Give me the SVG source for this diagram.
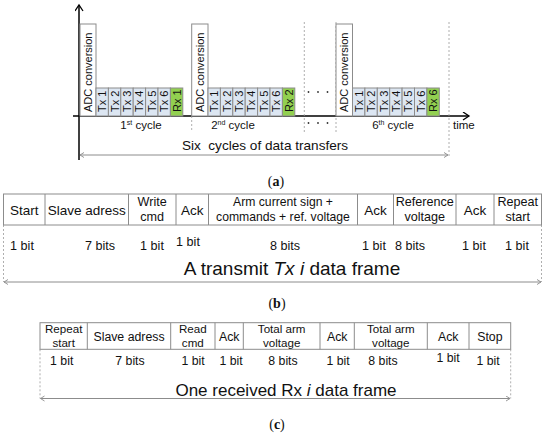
<svg xmlns="http://www.w3.org/2000/svg" width="550" height="435" viewBox="0 0 550 435">
<style>
text{font-family:"Liberation Sans",Arial,sans-serif;fill:#111}
.box{fill:#fff;stroke:#8c8c8c;stroke-width:1}
.tx{fill:#dce6f2;stroke:#8c8c8c;stroke-width:1}
.rx{fill:#92d050;stroke:#8c8c8c;stroke-width:1}
.rt{font-size:11px}
.adc{font-size:11px}
.lbl{font-size:11.5px}
.cell{fill:#fff;stroke:#8c8c8c;stroke-width:1}
.h{font-size:13.5px;text-anchor:middle}
.h2{font-size:12.6px;text-anchor:middle}
.hs{font-size:12.2px;text-anchor:middle}
.b{font-size:12.6px;text-anchor:middle}
.c{font-size:12.3px;text-anchor:middle}
.c2{font-size:11.6px;text-anchor:middle}
.dash{stroke:#9a9a9a;stroke-width:0.8;stroke-dasharray:2,2;fill:none}
.axis{stroke:#000;stroke-width:1.5;fill:none}
.span{stroke:#8c8c8c;stroke-width:1;fill:none}
.cap{font-family:"Liberation Serif","DejaVu Serif",serif;font-size:14px;text-anchor:middle}
.dot{fill:#333}
</style>
<defs>
<marker id="ah" markerWidth="10" markerHeight="10" refX="7" refY="4" orient="auto" markerUnits="userSpaceOnUse">
<path d="M1,0 L7,4 L1,8" fill="none" stroke="#000" stroke-width="1.3"/>
</marker>
<marker id="sh" markerWidth="8" markerHeight="8" refX="5" refY="3" orient="auto-start-reverse" markerUnits="userSpaceOnUse">
<path d="M1,0.5 L5,3 L1,5.5" fill="none" stroke="#8c8c8c" stroke-width="0.9"/>
</marker>
</defs>

<!-- ===== Part (a) ===== -->
<g id="connectors">
<line class="axis" x1="79" y1="160" x2="79" y2="5" marker-end="url(#ah)"/>
<line class="axis" x1="73" y1="116" x2="469" y2="116" marker-end="url(#ah)"/>
<line class="dash" x1="191.7" y1="116" x2="191.7" y2="130"/>
<line class="dash" x1="304.3" y1="22" x2="304.3" y2="132"/>
<line class="dash" x1="336" y1="22" x2="336" y2="132"/>
<line class="dash" x1="449" y1="22" x2="449" y2="157"/>
<line class="span" x1="80" y1="155" x2="448" y2="155" marker-start="url(#sh)" marker-end="url(#sh)"/>
<line class="dash" x1="3.5" y1="225" x2="3.5" y2="282"/>
<line class="dash" x1="541.5" y1="225" x2="541.5" y2="282"/>
<line class="span" x1="4" y1="282" x2="541" y2="282" marker-start="url(#sh)" marker-end="url(#sh)"/>
<line class="dash" x1="40" y1="349.3" x2="40" y2="398.5"/>
<line class="dash" x1="510.7" y1="349.3" x2="510.7" y2="398.5"/>
<line class="span" x1="40.5" y1="398.5" x2="510" y2="398.5" marker-start="url(#sh)" marker-end="url(#sh)"/>
</g>

<g id="cycle1">
<rect class="box" x="80" y="24" width="16" height="92"/>
<text class="adc" transform="translate(92,112) rotate(-90)">ADC conversion</text>
<rect class="tx" x="96" y="88" width="12.4" height="28"/>
<rect class="tx" x="108.4" y="88" width="12.4" height="28"/>
<rect class="tx" x="120.8" y="88" width="12.4" height="28"/>
<rect class="tx" x="133.2" y="88" width="12.4" height="28"/>
<rect class="tx" x="145.6" y="88" width="12.4" height="28"/>
<rect class="tx" x="158" y="88" width="12.4" height="28"/>
<rect class="rx" x="170.4" y="88" width="12.4" height="28"/>
<text class="rt" transform="translate(106.2,112) rotate(-90)">Tx 1</text>
<text class="rt" transform="translate(118.6,112) rotate(-90)">Tx 2</text>
<text class="rt" transform="translate(131,112) rotate(-90)">Tx 3</text>
<text class="rt" transform="translate(143.4,112) rotate(-90)">Tx 4</text>
<text class="rt" transform="translate(155.8,112) rotate(-90)">Tx 5</text>
<text class="rt" transform="translate(168.2,112) rotate(-90)">Tx 6</text>
<text class="rt" transform="translate(180.6,112) rotate(-90)">Rx 1</text>
<text class="lbl" x="141" y="129" text-anchor="middle">1<tspan font-size="7" dy="-4">st</tspan><tspan dy="4"> cycle</tspan></text>
</g>

<g id="cycle2">
<rect class="box" x="191.7" y="24" width="16.3" height="92"/>
<text class="adc" transform="translate(204,112) rotate(-90)">ADC conversion</text>
<rect class="tx" x="208" y="88" width="12.4" height="28"/>
<rect class="tx" x="220.4" y="88" width="12.4" height="28"/>
<rect class="tx" x="232.8" y="88" width="12.4" height="28"/>
<rect class="tx" x="245.2" y="88" width="12.4" height="28"/>
<rect class="tx" x="257.6" y="88" width="12.4" height="28"/>
<rect class="tx" x="270" y="88" width="12.4" height="28"/>
<rect class="rx" x="282.4" y="88" width="12.4" height="28"/>
<text class="rt" transform="translate(218.2,112) rotate(-90)">Tx 1</text>
<text class="rt" transform="translate(230.6,112) rotate(-90)">Tx 2</text>
<text class="rt" transform="translate(243,112) rotate(-90)">Tx 3</text>
<text class="rt" transform="translate(255.4,112) rotate(-90)">Tx 4</text>
<text class="rt" transform="translate(267.8,112) rotate(-90)">Tx 5</text>
<text class="rt" transform="translate(280.2,112) rotate(-90)">Tx 6</text>
<text class="rt" transform="translate(292.6,112) rotate(-90)">Rx 2</text>
<text class="lbl" x="233" y="129" text-anchor="middle">2<tspan font-size="7" dy="-4">nd</tspan><tspan dy="4"> cycle</tspan></text>
</g>

<g id="ellipsis">
<circle class="dot" cx="308.5" cy="92" r="0.9"/>
<circle class="dot" cx="318" cy="92" r="0.9"/>
<circle class="dot" cx="327.5" cy="92" r="0.9"/>
<circle class="dot" cx="308.5" cy="123" r="0.9"/>
<circle class="dot" cx="318" cy="123" r="0.9"/>
<circle class="dot" cx="327.5" cy="123" r="0.9"/>
</g>

<g id="cycle6">
<rect class="box" x="336" y="24" width="16.5" height="92"/>
<text class="adc" transform="translate(348.3,112) rotate(-90)">ADC conversion</text>
<rect class="tx" x="352.5" y="88" width="12.4" height="28"/>
<rect class="tx" x="364.9" y="88" width="12.4" height="28"/>
<rect class="tx" x="377.3" y="88" width="12.4" height="28"/>
<rect class="tx" x="389.7" y="88" width="12.4" height="28"/>
<rect class="tx" x="402.1" y="88" width="12.4" height="28"/>
<rect class="tx" x="414.5" y="88" width="12.4" height="28"/>
<rect class="rx" x="426.9" y="88" width="12.4" height="28"/>
<text class="rt" transform="translate(362.7,112) rotate(-90)">Tx 1</text>
<text class="rt" transform="translate(375.1,112) rotate(-90)">Tx 2</text>
<text class="rt" transform="translate(387.5,112) rotate(-90)">Tx 3</text>
<text class="rt" transform="translate(399.9,112) rotate(-90)">Tx 4</text>
<text class="rt" transform="translate(412.3,112) rotate(-90)">Tx 5</text>
<text class="rt" transform="translate(424.7,112) rotate(-90)">Tx 6</text>
<text class="rt" transform="translate(437.1,112) rotate(-90)">Rx 6</text>
<text class="lbl" x="393" y="129" text-anchor="middle">6<tspan font-size="7" dy="-4">th</tspan><tspan dy="4"> cycle</tspan></text>
</g>

<g id="labels-a">
<text class="lbl" x="453" y="129">time</text>
<text x="265" y="150" font-size="13.6" text-anchor="middle" xml:space="preserve">Six  cycles of data transfers</text>
<text class="cap" x="276" y="186">(<tspan font-weight="bold">a</tspan>)</text>
</g>

<!-- ===== Part (b) ===== -->
<g id="tx-frame">
<rect class="cell" x="3.5" y="194" width="538" height="31"/>
<g id="b-start"><line class="span" x1="45" y1="194" x2="45" y2="225"/><text class="h" x="24.2" y="215">Start</text><text class="b" x="22" y="249.5">1 bit</text></g>
<g id="b-slave"><line class="span" x1="128.5" y1="194" x2="128.5" y2="225"/><text class="h" x="86.7" y="215">Slave adress</text><text class="b" x="100" y="249.5">7 bits</text></g>
<g id="b-write"><line class="span" x1="176" y1="194" x2="176" y2="225"/><text class="h2" x="152.2" y="206">Write</text><text class="h2" x="152.2" y="220.5">cmd</text><text class="b" x="152" y="249.5">1 bit</text></g>
<g id="b-ack1"><line class="span" x1="208.5" y1="194" x2="208.5" y2="225"/><text class="h" x="192.2" y="215">Ack</text><text class="b" x="188" y="246">1 bit</text></g>
<g id="b-arm"><line class="span" x1="357.5" y1="194" x2="357.5" y2="225"/><text class="hs" x="283" y="206">Arm current sign +</text><text class="hs" x="283" y="220.5">commands + ref. voltage</text><text class="b" x="285" y="249.5">8 bits</text></g>
<g id="b-ack2"><line class="span" x1="393.5" y1="194" x2="393.5" y2="225"/><text class="h" x="375.5" y="215">Ack</text><text class="b" x="374" y="249.5">1 bit</text></g>
<g id="b-ref"><line class="span" x1="456" y1="194" x2="456" y2="225"/><text class="h2" x="424.7" y="206">Reference</text><text class="h2" x="424.7" y="220.5">voltage</text><text class="b" x="410" y="249.5">8 bits</text></g>
<g id="b-ack3"><line class="span" x1="494" y1="194" x2="494" y2="225"/><text class="h" x="475" y="215">Ack</text><text class="b" x="474" y="249.5">1 bit</text></g>
<g id="b-repeat"><text class="h2" x="517.7" y="206">Repeat</text><text class="h2" x="517.7" y="220.5">start</text><text class="b" x="517" y="249.5">1 bit</text></g>
<text x="292" y="275" font-size="19" text-anchor="middle">A transmit <tspan font-style="italic">Tx i</tspan> data frame</text>
<text class="cap" x="277" y="308">(<tspan font-weight="bold">b</tspan>)</text>
</g>

<!-- ===== Part (c) ===== -->
<g id="rx-frame">
<rect class="cell" x="40" y="322.7" width="470.7" height="26.6"/>
<g id="c-repeat"><line class="span" x1="87.3" y1="322.7" x2="87.3" y2="349.3"/><text class="c2" x="63.7" y="332.8">Repeat</text><text class="c2" x="63.7" y="346.5">start</text><text class="c" x="61.7" y="364.5">1 bit</text></g>
<g id="c-slave"><line class="span" x1="170.7" y1="322.7" x2="170.7" y2="349.3"/><text class="c" x="129" y="340.5">Slave adress</text><text class="c" x="130" y="364.5">7 bits</text></g>
<g id="c-read"><line class="span" x1="215" y1="322.7" x2="215" y2="349.3"/><text class="c2" x="192.8" y="332.8">Read</text><text class="c2" x="192.8" y="346.5">cmd</text><text class="c" x="193" y="364.5">1 bit</text></g>
<g id="c-ack1"><line class="span" x1="243.3" y1="322.7" x2="243.3" y2="349.3"/><text class="c" x="229.2" y="340.5">Ack</text><text class="c" x="231" y="364.5">1 bit</text></g>
<g id="c-total1"><line class="span" x1="320" y1="322.7" x2="320" y2="349.3"/><text class="c2" x="281.7" y="332.8">Total arm</text><text class="c2" x="281.7" y="346.5">voltage</text><text class="c" x="283" y="364.5">8 bits</text></g>
<g id="c-ack2"><line class="span" x1="354.3" y1="322.7" x2="354.3" y2="349.3"/><text class="c" x="337.2" y="340.5">Ack</text><text class="c" x="338" y="364.5">1 bit</text></g>
<g id="c-total2"><line class="span" x1="427.3" y1="322.7" x2="427.3" y2="349.3"/><text class="c2" x="390.8" y="332.8">Total arm</text><text class="c2" x="390.8" y="346.5">voltage</text><text class="c" x="383" y="364.5">8 bits</text></g>
<g id="c-ack3"><line class="span" x1="469" y1="322.7" x2="469" y2="349.3"/><text class="c" x="448.2" y="340.5">Ack</text><text class="c" x="448" y="362">1 bit</text></g>
<g id="c-stop"><text class="c" x="489.9" y="340.5">Stop</text><text class="c" x="488" y="364.5">1 bit</text></g>
<text x="286" y="396" font-size="17" text-anchor="middle">One received Rx <tspan font-style="italic">i</tspan> data frame</text>
<text class="cap" x="277" y="429">(<tspan font-weight="bold">c</tspan>)</text>
</g>
</svg>
